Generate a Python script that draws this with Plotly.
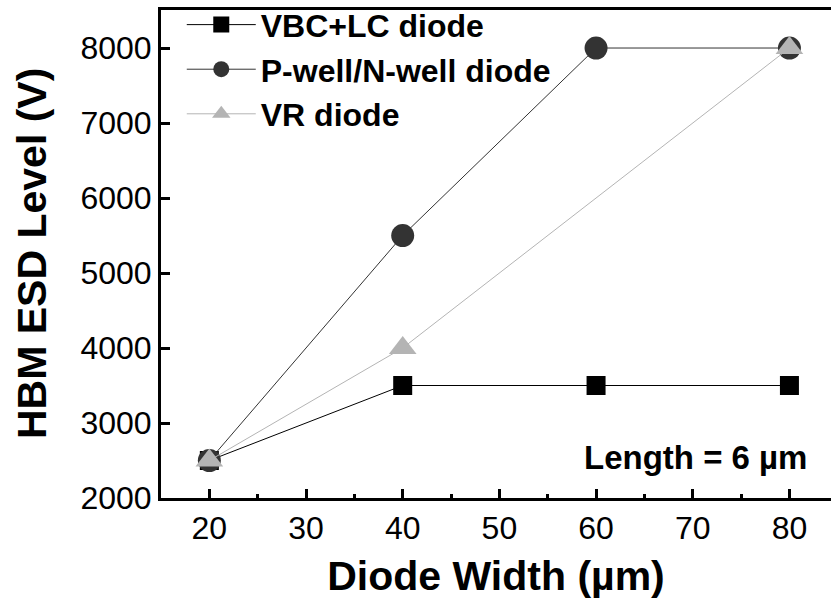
import plotly.graph_objects as go

vbc_x = [20, 40, 60, 80]
vbc_y = [2500, 3500, 3500, 3500]
pw_x = [20, 40, 60, 80]
pw_y = [2500, 5500, 8000, 8000]
vr_x = [20, 40, 80]
vr_y = [2500, 4000, 8000]

FONT = "Arial, Liberation Sans, sans-serif"

fig = go.Figure()
fig.add_trace(go.Scatter(x=vbc_x, y=vbc_y, mode="lines+markers", name="VBC+LC diode",
                         line=dict(color="#000000", width=1),
                         marker=dict(symbol="square", size=19, color="#000000")))
fig.add_trace(go.Scatter(x=pw_x, y=pw_y, mode="lines+markers", name="P-well/N-well diode",
                         line=dict(color="#333333", width=1),
                         marker=dict(symbol="circle", size=23, color="#333333")))
fig.add_trace(go.Scatter(x=vr_x, y=vr_y, mode="lines+markers", name="VR diode",
                         line=dict(color="#b4b4b4", width=1),
                         marker=dict(symbol="triangle-up", size=24, color="#b4b4b4")))

fig.add_annotation(x=1, y=0, xref="paper", yref="paper", xanchor="right", yanchor="bottom",
                   xshift=-22, yshift=20, showarrow=False,
                   text="<b>Length = 6 µm</b>", font=dict(family=FONT, size=33, color="#000"))

fig.add_annotation(x=0, y=0.5, xref="paper", yref="paper", xanchor="center", yanchor="middle",
                   xshift=-129, showarrow=False, textangle=-90,
                   text="<b>HBM ESD Level (V)</b>", font=dict(family=FONT, size=41, color="#000"))

fig.update_layout(
    width=831, height=604,
    margin=dict(l=161, r=0, t=10, b=106, autoexpand=False),
    plot_bgcolor="white", paper_bgcolor="white",
    font=dict(family=FONT, color="#000"),
    showlegend=True,
    legend=dict(x=0.031, y=1.026, xanchor="left", yanchor="top",
                font=dict(family=FONT, size=32, color="#000", weight="bold"),
                bgcolor="rgba(0,0,0,0)", tracegroupgap=0, itemwidth=69),
    xaxis=dict(range=[15, 84.3], tickvals=[20, 30, 40, 50, 60, 70, 80],
               ticks="inside", ticklen=9, tickwidth=3, tickcolor="#000",
               minor=dict(tickvals=[25, 35, 45, 55, 65, 75], ticks="inside", ticklen=4, tickwidth=3, tickcolor="#000"),
               showline=True, linewidth=3, linecolor="#000", mirror=True,
               showgrid=False, zeroline=False,
               tickfont=dict(family=FONT, size=32, color="#000"),
               title=dict(text="<b>Diode Width (µm)</b>", font=dict(family=FONT, size=41, color="#000"), standoff=16)),
    yaxis=dict(range=[2000, 8507], tickvals=[2000, 3000, 4000, 5000, 6000, 7000, 8000],
               ticks="inside", ticklen=9, tickwidth=3, tickcolor="#000",
               showline=True, linewidth=3, linecolor="#000", mirror=False,
               showgrid=False, zeroline=False,
               tickfont=dict(family=FONT, size=32, color="#000")),
)

fig.write_html("out.html")
